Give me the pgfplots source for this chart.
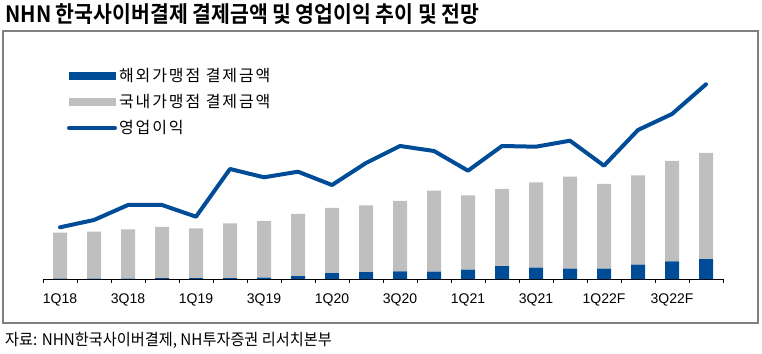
\documentclass[border=0pt]{standalone}
\usepackage{pgfplots}
\usepackage{pgfplotstable}
\pgfplotsset{compat=1.18}
\usepackage{fontspec}
\setmainfont{Liberation Sans}
\newfontfamily\krbold[FakeStretch=0.91]{Noto Sans CJK KR Bold}
\newfontfamily\krsrc[FakeStretch=0.95]{Noto Sans CJK KR}
\newfontfamily\legfont[LetterSpace=12]{Noto Sans CJK KR}
\newfontfamily\tickfont{Liberation Sans}
\definecolor{ovblue}{RGB}{0,76,151}
\definecolor{dgray}{RGB}{191,191,191}
\definecolor{framegray}{RGB}{128,128,128}

\pgfplotstableread{
x ov dom op
0 0.5 45.8 51.7
1 0.5 46.8 59
2 0.5 49.2 74
3 1.0 51.0 74
4 1.0 49.7 62.3
5 1.0 54.7 110
6 1.5 56.5 101.7
7 3.0 62.0 107.3
8 6.0 65.0 94
9 7.0 66.7 116
10 7.7 70.3 133
11 7.3 81.0 128
12 9.3 74.4 108.3
13 13.0 77.0 133
14 11.3 85.4 132.3
15 10.3 92.0 138.3
16 10.3 84.7 113.3
17 14.3 89.4 149
18 17.7 100.3 165
19 20.0 106.0 194.7
}\data

\begin{document}
\begin{tikzpicture}
\path[use as bounding box] (0,0) rectangle (762pt,353pt);
\draw[framegray, line width=2pt] (3pt,30pt) rectangle (758pt,321.5pt);
\node[anchor=west, inner sep=0pt] at (5pt,339pt) {\krbold\fontsize{22.5pt}{24pt}\selectfont NHN 한국사이버결제 결제금액 및 영업이익 추이 및 전망};
\node[anchor=west, inner sep=0pt] at (5pt,13pt) {\krsrc\fontsize{16pt}{18pt}\selectfont 자료: NHN한국사이버결제, NH투자증권 리서치본부};

\begin{axis}[
  at={(43pt,74pt)}, anchor=south west,
  scale only axis, width=680pt, height=240pt,
  xmin=-0.5, xmax=19.5, ymin=0, ymax=240,
  ybar stacked, bar width=14pt,
  axis x line*=bottom, axis y line=none,
  axis line style={black, line width=0.8pt},
  xtick={0,2,...,18},
  xticklabels={1Q18,3Q18,1Q19,3Q19,1Q20,3Q20,1Q21,3Q21,1Q22F,3Q22F},
  major tick length=0pt,
  minor xtick={-0.5,0.5,...,19.5},
  minor tick length=4pt,
  tick align=outside,
  minor tick style={black, line width=0.8pt},
  xticklabel style={font=\tickfont\fontsize{14pt}{16pt}\selectfont, yshift=-11pt},
]
\addplot[fill=ovblue, draw=none] table[x=x, y=ov] {\data};
\addplot[fill=dgray, draw=none] table[x=x, y=dom] {\data};
\end{axis}

\begin{axis}[
  at={(43pt,74pt)}, anchor=south west,
  scale only axis, width=680pt, height=240pt,
  xmin=-0.5, xmax=19.5, ymin=0, ymax=240,
  axis lines=none,
  legend style={at={(axis description cs:0.035,0.8875)}, anchor=north west,
    draw=none, fill=none, inner sep=0pt, row sep=7.5pt,
    font=\legfont\fontsize{16pt}{18pt}\selectfont},
  legend cell align=left,
]
\addlegendimage{legend image code/.code={\fill[ovblue] (0pt,-3.5pt) rectangle (46pt,3.5pt);}}
\addlegendentry{해외가맹점 결제금액}
\addlegendimage{legend image code/.code={\fill[dgray] (0pt,-3.5pt) rectangle (46pt,3.5pt);}}
\addlegendentry{국내가맹점 결제금액}
\addplot[ovblue, line width=4pt, line cap=round, line join=round, sharp plot,
  legend image code/.code={\draw[ovblue, line width=4pt, line cap=round] (0pt,0pt) -- (46pt,0pt);}]
  table[x=x, y=op] {\data};
\addlegendentry{영업이익}
\end{axis}
\end{tikzpicture}
\end{document}
